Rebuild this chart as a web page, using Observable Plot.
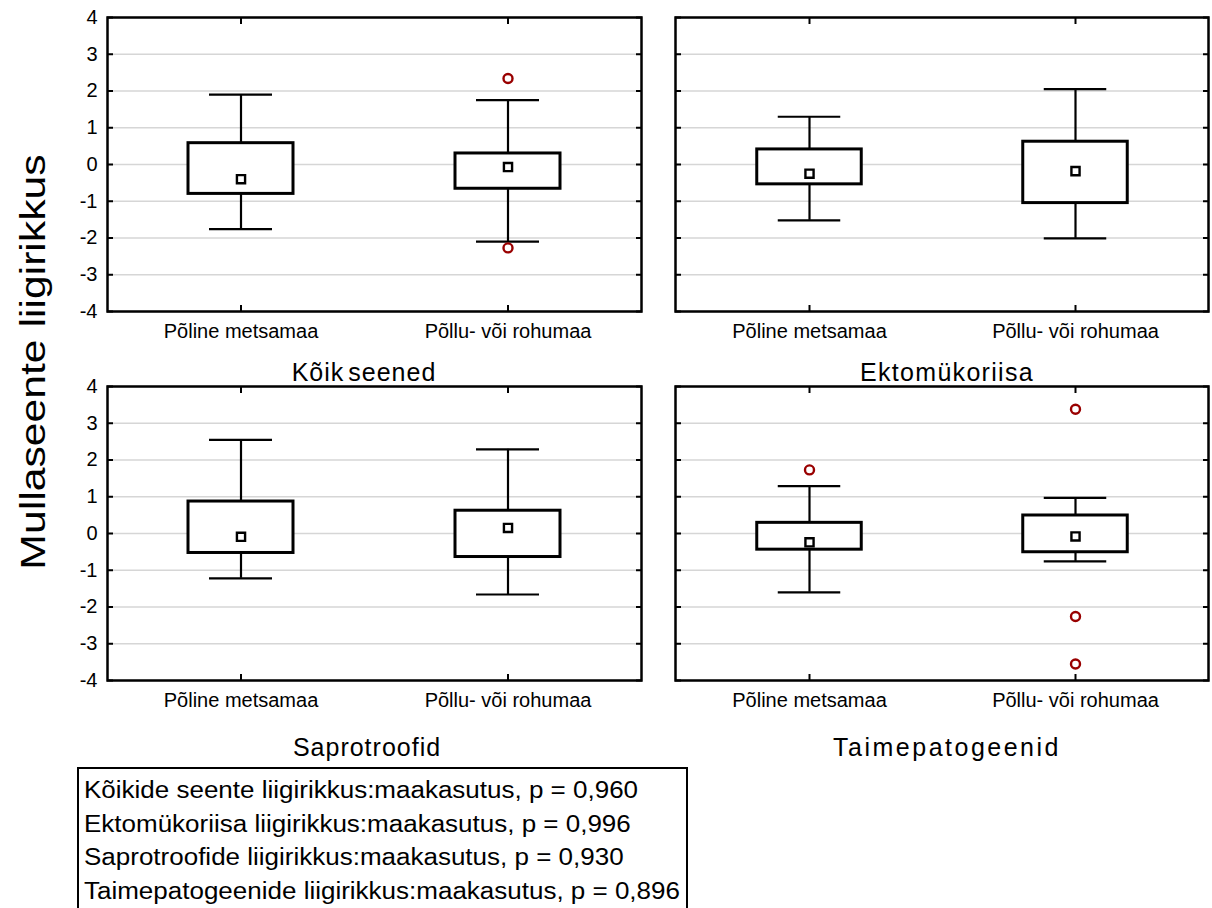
<!DOCTYPE html>
<html><head><meta charset="utf-8">
<script src="https://cdn.jsdelivr.net/npm/d3@7"></script>
<script src="https://cdn.jsdelivr.net/npm/@observablehq/plot@0.6"></script>
<style>
body{margin:0;background:#fff;font-family:"Liberation Sans",Arial,sans-serif;color:#000}
#wrap{position:relative;width:1212px;height:908px;overflow:hidden;background:#fff}
.panel{position:absolute;z-index:1}
.ttl{position:absolute;z-index:5;font-size:25px;white-space:nowrap;transform:translate(-50%,-50%);line-height:1}
#ytitle{position:absolute;z-index:5;left:32px;top:362px;font-size:35px;white-space:nowrap;transform:translate(-50%,-50%) rotate(-90deg) scaleX(1.22);line-height:1}
#legend{position:absolute;z-index:5;left:77px;top:767px;width:607px;height:160px;border:2.5px solid #000;box-sizing:content-box;background:#fff}
#legend div{position:absolute;left:5px;font-size:23px;white-space:nowrap;line-height:1;transform-origin:left center}
</style></head>
<body><div id="wrap"></div>
<script>
const categories = ["Põline metsamaa", "Põllu- või rohumaa"];
const panelTitles = ["Kõik seened", "Ektomükoriisa", "Saprotroofid", "Taimepatogeenid"];
const yTicks = [-4, -3, -2, -1, 0, 1, 2, 3, 4];
// per panel: [Põline metsamaa, Põllu- või rohumaa]
const whiskerHigh = [[1.90, 1.75], [1.30, 2.05], [2.55, 2.29], [1.29, 0.97]];
const boxHigh     = [[0.58, 0.30], [0.41, 0.62], [0.87, 0.62], [0.29, 0.49]];
const centerValue = [[-0.40, -0.07], [-0.25, -0.18], [-0.09, 0.15], [-0.24, -0.08]];
const boxLow      = [[-0.80, -0.66], [-0.54, -1.05], [-0.53, -0.64], [-0.44, -0.51]];
const whiskerLow  = [[-1.76, -2.10], [-1.52, -2.01], [-1.22, -1.66], [-1.60, -0.76]];
const outlierPanel = [0, 0, 3, 3, 3, 3];
const outlierCat   = [1, 1, 0, 1, 1, 1];
const outlierValue = [2.34, -2.27, 1.73, 3.38, -2.26, -3.55];
const yTitle = "Mullaseente liigirikkus";
const legendLines = [
  "Kõikide seente liigirikkus:maakasutus, p = 0,960",
  "Ektomükoriisa liigirikkus:maakasutus, p = 0,996",
  "Saprotroofide liigirikkus:maakasutus, p = 0,930",
  "Taimepatogeenide liigirikkus:maakasutus, p = 0,896"
];

const wrap = document.getElementById("wrap");
const layout = [
  {left: 0, top: 0, width: 660, height: 345, ml: 107, mr: 19, mt: 17, mb: 34, showY: true, tx: 364, ty: 372, ls: "1px", ws: "-4px"},
  {left: 660, top: 0, width: 552, height: 345, ml: 15, mr: 4, mt: 17, mb: 34, showY: false, tx: 947, ty: 372, ls: "1.3px", ws: "0px"},
  {left: 0, top: 360, width: 660, height: 354, ml: 107, mr: 19, mt: 26, mb: 34, showY: true, tx: 367, ty: 747, ls: "1px", ws: "0px"},
  {left: 660, top: 360, width: 552, height: 354, ml: 15, mr: 4, mt: 26, mb: 34, showY: false, tx: 947, ty: 747, ls: "2.5px", ws: "0px"}
];

function panel(p) {
  const L = layout[p];
  const rows = categories.map((c, i) => ({
    cat: c, wl: whiskerLow[p][i], bl: boxLow[p][i], m: centerValue[p][i], bh: boxHigh[p][i], wh: whiskerHigh[p][i]
  }));
  const outs = outlierValue.map((v, i) => ({cat: categories[outlierCat[i]], v, p: outlierPanel[i]})).filter(d => d.p === p);
  const bandW = (L.width - L.ml - L.mr) / 2;
  const boxInset = (bandW - 105) / 2;
  const capInset = (bandW - 63) / 2;
  return Plot.plot({
    width: L.width, height: L.height,
    marginLeft: L.ml, marginRight: L.mr, marginTop: L.mt, marginBottom: L.mb,
    x: {type: "band", domain: categories, padding: 0, label: null},
    y: {domain: [-4, 4], label: null},
    style: {fontFamily: "'Liberation Sans', Arial, sans-serif", fontSize: "20px", color: "#000", background: "transparent", overflow: "visible"},
    marks: [
      Plot.gridY(yTicks, {stroke: "#d6d6d6", strokeOpacity: 1, strokeWidth: 1.5}),
      Plot.ruleX(rows, {x: "cat", y1: "bh", y2: "wh", stroke: "#000", strokeWidth: 2.2}),
      Plot.ruleX(rows, {x: "cat", y1: "wl", y2: "bl", stroke: "#000", strokeWidth: 2.2}),
      Plot.tickY(rows, {x: "cat", y: "wh", stroke: "#000", strokeWidth: 2.2, insetLeft: capInset, insetRight: capInset}),
      Plot.tickY(rows, {x: "cat", y: "wl", stroke: "#000", strokeWidth: 2.2, insetLeft: capInset, insetRight: capInset}),
      Plot.barY(rows, {x: "cat", y1: "bl", y2: "bh", fill: "white", stroke: "#000", strokeWidth: 3, insetLeft: boxInset, insetRight: boxInset}),
      Plot.dot(rows, {x: "cat", y: "m", symbol: "square", r: 4.6, fill: "white", stroke: "#000", strokeWidth: 2.4}),
      Plot.dot(outs, {x: "cat", y: "v", r: 4.5, fill: "white", stroke: "#990000", strokeWidth: 2.4}),
      Plot.axisY(yTicks, {anchor: "left", label: null, tickSize: -6, tickPadding: 16, strokeWidth: 2,
        tickFormat: L.showY ? (d => String(d)) : (() => "")}),
      Plot.axisY(yTicks, {anchor: "right", label: null, tickSize: -6, strokeWidth: 2, tickFormat: () => ""}),
      Plot.axisX({anchor: "bottom", label: null, tickSize: -6, tickPadding: 18, strokeWidth: 2, fontSize: 20}),
      Plot.axisX({anchor: "top", label: null, tickSize: -6, strokeWidth: 2, tickFormat: () => ""}),
      Plot.frame({stroke: "#000", strokeWidth: 2.5})
    ]
  });
}

layout.forEach((L, p) => {
  const el = panel(p);
  el.classList.add("panel");
  el.style.left = L.left + "px";
  el.style.top = L.top + "px";
  wrap.appendChild(el);
});
layout.forEach((L, p) => {
  const t = document.createElement("div");
  t.className = "ttl";
  t.textContent = panelTitles[p];
  t.style.left = L.tx + "px";
  t.style.top = L.ty + "px";
  t.style.letterSpacing = L.ls;
  t.style.wordSpacing = L.ws;
  wrap.appendChild(t);
});

const yt = document.createElement("div");
yt.id = "ytitle";
yt.textContent = yTitle;
wrap.appendChild(yt);

const lg = document.createElement("div");
lg.id = "legend";
legendLines.forEach((s, i) => {
  const d = document.createElement("div");
  d.textContent = s;
  d.style.top = (10 + i * 33.5) + "px";
  d.style.transform = "scaleX(1.13)";
  lg.appendChild(d);
});
wrap.appendChild(lg);
</script></body></html>
